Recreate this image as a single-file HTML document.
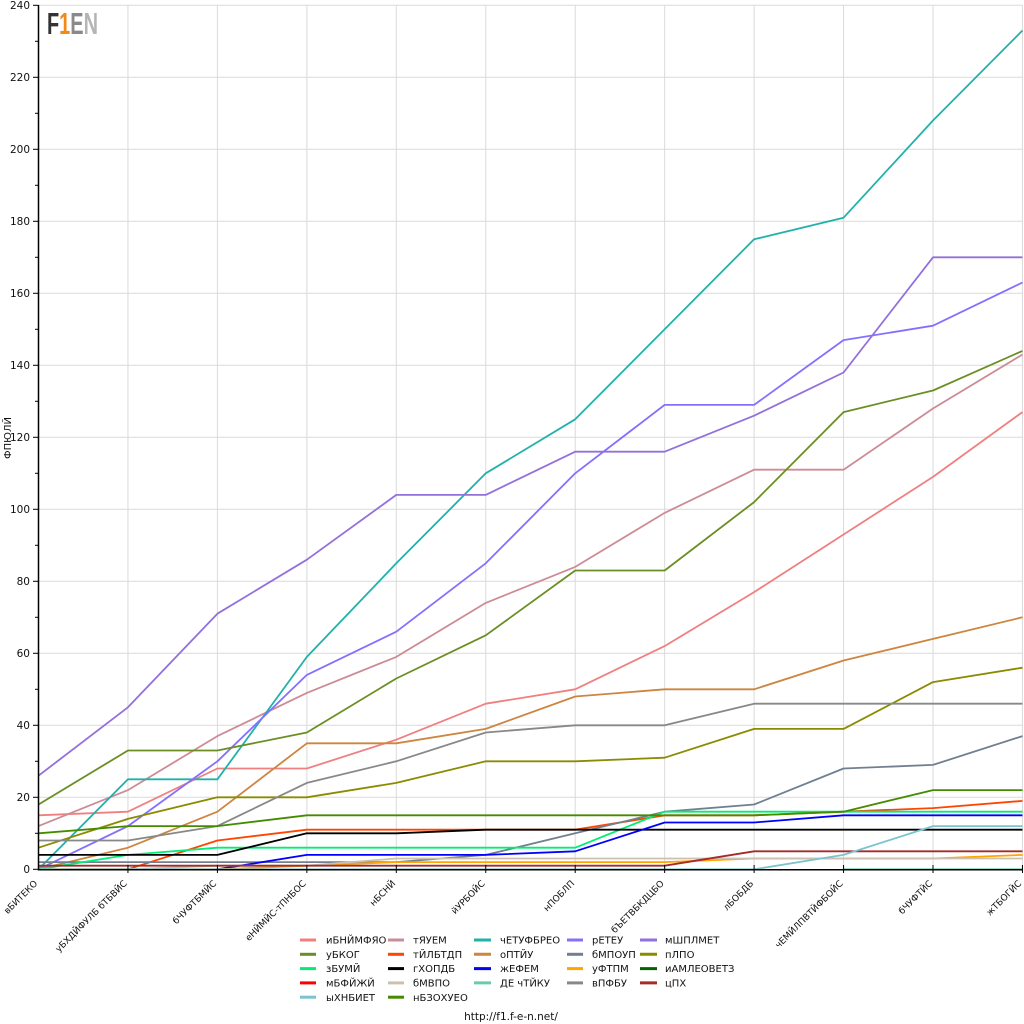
<!DOCTYPE html>
<html><head><meta charset="utf-8">
<style>
html,body{margin:0;padding:0;background:#fff;}
svg{display:block;}
.t{font-family:"DejaVu Sans","Liberation Sans",sans-serif;fill:#111;}
</style></head>
<body>
<svg width="1024" height="1024" viewBox="0 0 1024 1024" xmlns="http://www.w3.org/2000/svg">
<rect width="1024" height="1024" fill="#fff"/>
<!-- grid -->
<g stroke="#dadada" stroke-width="1" fill="none">
<line x1="38.5" y1="5.3" x2="1022.5" y2="5.3"/>
<line x1="38.5" y1="77.3" x2="1022.5" y2="77.3"/>
<line x1="38.5" y1="149.3" x2="1022.5" y2="149.3"/>
<line x1="38.5" y1="221.3" x2="1022.5" y2="221.3"/>
<line x1="38.5" y1="293.3" x2="1022.5" y2="293.3"/>
<line x1="38.5" y1="365.3" x2="1022.5" y2="365.3"/>
<line x1="38.5" y1="437.3" x2="1022.5" y2="437.3"/>
<line x1="38.5" y1="509.3" x2="1022.5" y2="509.3"/>
<line x1="38.5" y1="581.3" x2="1022.5" y2="581.3"/>
<line x1="38.5" y1="653.3" x2="1022.5" y2="653.3"/>
<line x1="38.5" y1="725.3" x2="1022.5" y2="725.3"/>
<line x1="38.5" y1="797.3" x2="1022.5" y2="797.3"/>
<line x1="127.95" y1="5.3" x2="127.95" y2="869.3"/>
<line x1="217.4" y1="5.3" x2="217.4" y2="869.3"/>
<line x1="306.85" y1="5.3" x2="306.85" y2="869.3"/>
<line x1="396.3" y1="5.3" x2="396.3" y2="869.3"/>
<line x1="485.75" y1="5.3" x2="485.75" y2="869.3"/>
<line x1="575.2" y1="5.3" x2="575.2" y2="869.3"/>
<line x1="664.65" y1="5.3" x2="664.65" y2="869.3"/>
<line x1="754.1" y1="5.3" x2="754.1" y2="869.3"/>
<line x1="843.55" y1="5.3" x2="843.55" y2="869.3"/>
<line x1="933" y1="5.3" x2="933" y2="869.3"/>
<line x1="1022.45" y1="5.3" x2="1022.45" y2="869.3"/>
</g>

<!-- logo -->
<text x="47" y="34" font-family="Liberation Sans, sans-serif" font-weight="bold" font-size="31" textLength="51" lengthAdjust="spacingAndGlyphs"><tspan fill="#333">F</tspan><tspan fill="#f28a1a">1</tspan><tspan fill="#8a8a8a">E</tspan><tspan fill="#b5b5b5">N</tspan></text>

<!-- series -->
<g transform="translate(38.5 869.3) scale(89.45 -3.6)" fill="none" stroke-width="1.8" stroke-linejoin="round">
<polyline vector-effect="non-scaling-stroke" stroke="#f08080" points="0,15 1,16 2,28 3,28 4,36 5,46 6,50 7,62 8,77 9,93 10,109 11,127"/>
<polyline vector-effect="non-scaling-stroke" stroke="#cd8c95" points="0,12 1,22 2,37 3,49 4,59 5,74 6,84 7,99 8,111 9,111 10,128 11,143"/>
<polyline vector-effect="non-scaling-stroke" stroke="#20b2aa" points="0,0 1,25 2,25 3,59 4,85 5,110 6,125 7,150 8,175 9,181 10,208 11,233"/>
<polyline vector-effect="non-scaling-stroke" stroke="#8470ff" points="0,0 1,12 2,30 3,54 4,66 5,85 6,110 7,129 8,129 9,147 10,151 11,163"/>
<polyline vector-effect="non-scaling-stroke" stroke="#9370db" points="0,26 1,45 2,71 3,86 4,104 5,104 6,116 7,116 8,126 9,138 10,170 11,170"/>
<polyline vector-effect="non-scaling-stroke" stroke="#6b8e23" points="0,18 1,33 2,33 3,38 4,53 5,65 6,83 7,83 8,102 9,127 10,133 11,144"/>
<polyline vector-effect="non-scaling-stroke" stroke="#ff4500" points="0,0 1,0 2,8 3,11 4,11 5,11 6,11 7,15 8,15 9,16 10,17 11,19"/>
<polyline vector-effect="non-scaling-stroke" stroke="#cd853f" points="0,0 1,6 2,16 3,35 4,35 5,39 6,48 7,50 8,50 9,58 10,64 11,70"/>
<polyline vector-effect="non-scaling-stroke" stroke="#708090" points="0,2 1,2 2,2 3,2 4,2 5,4 6,10 7,16 8,18 9,28 10,29 11,37"/>
<polyline vector-effect="non-scaling-stroke" stroke="#8b8b00" points="0,6 1,14 2,20 3,20 4,24 5,30 6,30 7,31 8,39 9,39 10,52 11,56"/>
<polyline vector-effect="non-scaling-stroke" stroke="#00ee76" points="0,0 1,4 2,6 3,6 4,6 5,6 6,6 7,16 8,16 9,16 10,16 11,16"/>
<polyline vector-effect="non-scaling-stroke" stroke="#000000" points="0,4 1,4 2,4 3,10 4,10 5,11 6,11 7,11 8,11 9,11 10,11 11,11"/>
<polyline vector-effect="non-scaling-stroke" stroke="#0000ff" points="2,0 3,4 4,4 5,4 6,5 7,13 8,13 9,15 10,15 11,15"/>
<polyline vector-effect="non-scaling-stroke" stroke="#ffa500" points="0,0 1,0 2,0 3,1 4,2 5,2 6,2 7,2 8,3 9,3 10,3 11,4"/>
<polyline vector-effect="non-scaling-stroke" stroke="#cdc0b0" points="1,0 2,1 3,1 4,3 5,3 6,3 7,3 8,3 9,3 10,3 11,3"/>
<polyline vector-effect="non-scaling-stroke" stroke="#66cdaa" points="9,0 10,0 11,0"/>
<polyline vector-effect="non-scaling-stroke" stroke="#888888" points="0,8 1,8 2,12 3,24 4,30 5,38 6,40 7,40 8,46 9,46 10,46 11,46"/>
<polyline vector-effect="non-scaling-stroke" stroke="#a52a2a" points="0,1 1,1 2,1 3,1 4,1 5,1 6,1 7,1 8,5 9,5 10,5 11,5"/>
<polyline vector-effect="non-scaling-stroke" stroke="#7ac5cd" points="0,0 1,0 2,0 3,0 4,0 5,0 6,0 7,0 8,0 9,4 10,12 11,12"/>
<polyline vector-effect="non-scaling-stroke" stroke="#458b00" points="0,10 1,12 2,12 3,15 4,15 5,15 6,15 7,15 8,15 9,16 10,22 11,22"/>
</g>

<!-- axes -->
<g stroke="#000" fill="none">
<line x1="38.5" y1="5" x2="38.5" y2="870.5" stroke-width="1.5"/>
<line x1="38" y1="869.8" x2="1023" y2="869.8" stroke-width="1.5"/>
<g stroke-width="1">
<line x1="33" y1="5.3" x2="38.5" y2="5.3"/><line x1="35" y1="41.3" x2="38.5" y2="41.3"/>
<line x1="33" y1="77.3" x2="38.5" y2="77.3"/><line x1="35" y1="113.3" x2="38.5" y2="113.3"/>
<line x1="33" y1="149.3" x2="38.5" y2="149.3"/><line x1="35" y1="185.3" x2="38.5" y2="185.3"/>
<line x1="33" y1="221.3" x2="38.5" y2="221.3"/><line x1="35" y1="257.3" x2="38.5" y2="257.3"/>
<line x1="33" y1="293.3" x2="38.5" y2="293.3"/><line x1="35" y1="329.3" x2="38.5" y2="329.3"/>
<line x1="33" y1="365.3" x2="38.5" y2="365.3"/><line x1="35" y1="401.3" x2="38.5" y2="401.3"/>
<line x1="33" y1="437.3" x2="38.5" y2="437.3"/><line x1="35" y1="473.3" x2="38.5" y2="473.3"/>
<line x1="33" y1="509.3" x2="38.5" y2="509.3"/><line x1="35" y1="545.3" x2="38.5" y2="545.3"/>
<line x1="33" y1="581.3" x2="38.5" y2="581.3"/><line x1="35" y1="617.3" x2="38.5" y2="617.3"/>
<line x1="33" y1="653.3" x2="38.5" y2="653.3"/><line x1="35" y1="689.3" x2="38.5" y2="689.3"/>
<line x1="33" y1="725.3" x2="38.5" y2="725.3"/><line x1="35" y1="761.3" x2="38.5" y2="761.3"/>
<line x1="33" y1="797.3" x2="38.5" y2="797.3"/><line x1="35" y1="833.3" x2="38.5" y2="833.3"/>
<line x1="33" y1="869.3" x2="38.5" y2="869.3"/>
<line x1="127.95" y1="865" x2="127.95" y2="873"/>
<line x1="217.4" y1="865" x2="217.4" y2="873"/>
<line x1="306.85" y1="865" x2="306.85" y2="873"/>
<line x1="396.3" y1="865" x2="396.3" y2="873"/>
<line x1="485.75" y1="865" x2="485.75" y2="873"/>
<line x1="575.2" y1="865" x2="575.2" y2="873"/>
<line x1="664.65" y1="865" x2="664.65" y2="873"/>
<line x1="754.1" y1="865" x2="754.1" y2="873"/>
<line x1="843.55" y1="865" x2="843.55" y2="873"/>
<line x1="933" y1="865" x2="933" y2="873"/>
<line x1="1022.45" y1="865" x2="1022.45" y2="873"/>
</g>
</g>

<!-- y tick labels -->
<g class="t" font-size="10.5" text-anchor="end">
<text x="30" y="9">240</text>
<text x="30" y="81">220</text>
<text x="30" y="153">200</text>
<text x="30" y="225">180</text>
<text x="30" y="297">160</text>
<text x="30" y="369">140</text>
<text x="30" y="441">120</text>
<text x="30" y="513">100</text>
<text x="30" y="585">80</text>
<text x="30" y="657">60</text>
<text x="30" y="729">40</text>
<text x="30" y="801">20</text>
<text x="30" y="873">0</text>
</g>
<text class="t" font-size="10" text-anchor="middle" transform="translate(11 438) rotate(-90)">ФПЮЛЙ</text>

<!-- x labels -->
<g class="t" font-size="9" text-anchor="end">
<text transform="translate(38 884) rotate(-45)">вБИТЕКО</text>
<text transform="translate(127.5 884) rotate(-45)">уБХДЙФУЛБ бТБВЙС</text>
<text transform="translate(217 884) rotate(-45)">бЧУФТБМЙС</text>
<text transform="translate(306.5 884) rotate(-45)">еНЙМЙС-тПНБОС</text>
<text transform="translate(396 884) rotate(-45)">нБСНЙ</text>
<text transform="translate(485.5 884) rotate(-45)">йУРБОЙС</text>
<text transform="translate(575 884) rotate(-45)">нПОБЛП</text>
<text transform="translate(664.5 884) rotate(-45)">бЪЕТВБКДЦБО</text>
<text transform="translate(754 884) rotate(-45)">лБОБДБ</text>
<text transform="translate(843.5 884) rotate(-45)">чЕМЙЛПВТЙФБОЙС</text>
<text transform="translate(933 884) rotate(-45)">бЧУФТЙС</text>
<text transform="translate(1022 884) rotate(-45)">жТБОГЙС</text>
</g>

<!-- legend -->
<g stroke-width="3">
<line x1="300" y1="940" x2="316" y2="940" stroke="#f08080"/>
<line x1="388" y1="940" x2="404" y2="940" stroke="#cd8c95"/>
<line x1="474" y1="940" x2="491" y2="940" stroke="#20b2aa"/>
<line x1="567" y1="940" x2="583" y2="940" stroke="#8470ff"/>
<line x1="640" y1="940" x2="657" y2="940" stroke="#9370db"/>
<line x1="300" y1="954.3" x2="316" y2="954.3" stroke="#6b8e23"/>
<line x1="388" y1="954.3" x2="404" y2="954.3" stroke="#ff4500"/>
<line x1="474" y1="954.3" x2="491" y2="954.3" stroke="#cd853f"/>
<line x1="567" y1="954.3" x2="583" y2="954.3" stroke="#708090"/>
<line x1="640" y1="954.3" x2="657" y2="954.3" stroke="#8b8b00"/>
<line x1="300" y1="968.6" x2="316" y2="968.6" stroke="#00ee76"/>
<line x1="388" y1="968.6" x2="404" y2="968.6" stroke="#000000"/>
<line x1="474" y1="968.6" x2="491" y2="968.6" stroke="#0000ff"/>
<line x1="567" y1="968.6" x2="583" y2="968.6" stroke="#ffa500"/>
<line x1="640" y1="968.6" x2="657" y2="968.6" stroke="#006400"/>
<line x1="300" y1="982.9" x2="316" y2="982.9" stroke="#ff0000"/>
<line x1="388" y1="982.9" x2="404" y2="982.9" stroke="#cdc0b0"/>
<line x1="474" y1="982.9" x2="491" y2="982.9" stroke="#66cdaa"/>
<line x1="567" y1="982.9" x2="583" y2="982.9" stroke="#888888"/>
<line x1="640" y1="982.9" x2="657" y2="982.9" stroke="#a52a2a"/>
<line x1="300" y1="997.2" x2="316" y2="997.2" stroke="#7ac5cd"/>
<line x1="388" y1="997.2" x2="404" y2="997.2" stroke="#458b00"/>
</g>
<g class="t" font-size="10">
<text x="326" y="943.6">иБНЙМФЯО</text>
<text x="413" y="943.6">тЯУЕМ</text>
<text x="500" y="943.6">чЕТУФБРЕО</text>
<text x="592" y="943.6">рЕТЕУ</text>
<text x="665" y="943.6">мШПЛМЕТ</text>
<text x="326" y="957.9">уБКОГ</text>
<text x="413" y="957.9">тЙЛБТДП</text>
<text x="500" y="957.9">оПТЙУ</text>
<text x="592" y="957.9">бМПОУП</text>
<text x="665" y="957.9">пЛПО</text>
<text x="326" y="972.2">зБУМЙ</text>
<text x="413" y="972.2">гХОПДБ</text>
<text x="500" y="972.2">жЕФЕМ</text>
<text x="592" y="972.2">уФТПМ</text>
<text x="665" y="972.2">иАМЛЕОВЕТЗ</text>
<text x="326" y="986.5">мБФЙЖЙ</text>
<text x="413" y="986.5">бМВПО</text>
<text x="500" y="986.5">ДЕ чТЙКУ</text>
<text x="592" y="986.5">вПФБУ</text>
<text x="665" y="986.5">цПХ</text>
<text x="326" y="1000.8">ыХНБИЕТ</text>
<text x="413" y="1000.8">нБЗОХУЕО</text>
</g>
<text class="t" font-size="10.5" x="511" y="1020" text-anchor="middle">http://f1.f-e-n.net/</text>
</svg>
</body></html>
